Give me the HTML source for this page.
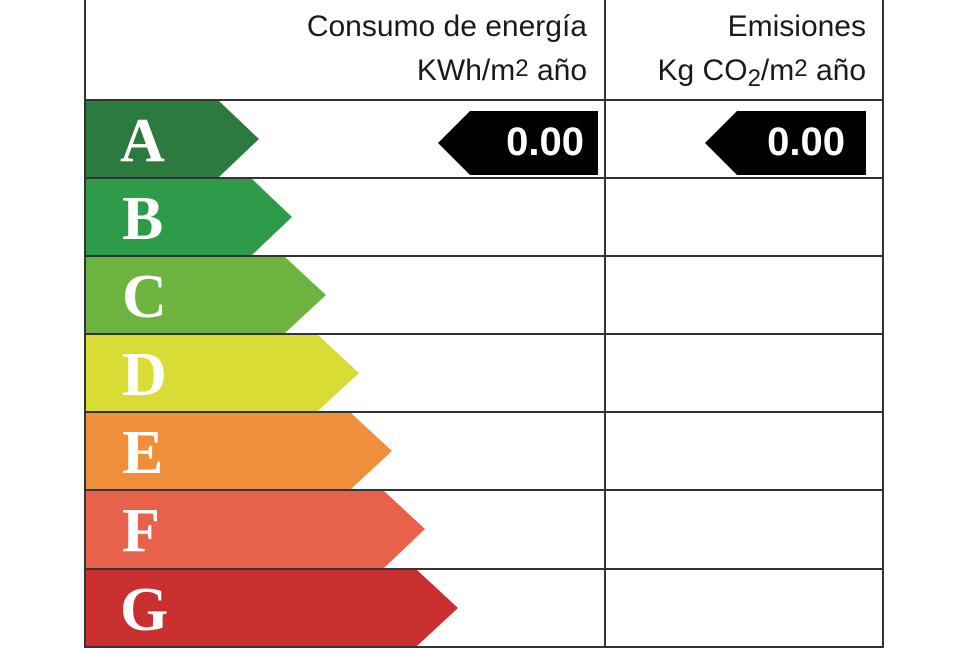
<!DOCTYPE html>
<html><head><meta charset="utf-8"><style>
html,body{margin:0;padding:0;background:#fff;}
svg{display:block;}
</style></head><body>
<svg width="975" height="650" viewBox="0 0 975 650" xmlns="http://www.w3.org/2000/svg">
<rect width="975" height="650" fill="#fff"/>
<g font-family="Liberation Sans, sans-serif" font-size="30" fill="#1a1a1a" text-anchor="end">
<text x="587" y="36">Consumo de energía</text>
<text x="587" y="80">KWh/m<tspan font-size="24" dy="-4">2</tspan><tspan dy="4"> año</tspan></text>
<text x="866" y="36">Emisiones</text>
<text x="866" y="80">Kg CO<tspan font-size="24" dy="6">2</tspan><tspan dy="-6">/m</tspan><tspan font-size="24" dy="-4">2</tspan><tspan dy="4"> año</tspan></text>
</g>
<g>
<polygon points="86,101 219,101 259,139 219,177 86,177" fill="#2d7a3e"/>
<polygon points="86,179 252,179 292,217 252,255 86,255" fill="#2e9b48"/>
<polygon points="86,257 285,257 326,295 285,333 86,333" fill="#6cb33f"/>
<polygon points="86,335 318,335 359,373 318,411 86,411" fill="#d8dc35"/>
<polygon points="86,413 351,413 392,451 351,489 86,489" fill="#ef8e3b"/>
<polygon points="86,491 384,491 425,529 384,568 86,568" fill="#e8614a"/>
<polygon points="86,570 417,570 458,608 417,646 86,646" fill="#c9302f"/>
</g>
<g font-family="Liberation Serif, serif" font-weight="bold" font-size="62" fill="#fff">
<text x="120" y="161">A</text>
<text x="122" y="239">B</text>
<text x="122" y="317">C</text>
<text x="122" y="395">D</text>
<text x="122" y="473">E</text>
<text x="122" y="551">F</text>
<text x="120" y="630">G</text>
</g>
<g stroke="#333" stroke-width="2" fill="none">
<line x1="85" y1="0" x2="85" y2="648"/>
<line x1="883" y1="0" x2="883" y2="648"/>
<line x1="605" y1="0" x2="605" y2="647"/>
<line x1="85" y1="100" x2="883" y2="100"/>
<line x1="85" y1="178" x2="883" y2="178"/>
<line x1="85" y1="256" x2="883" y2="256"/>
<line x1="85" y1="334" x2="883" y2="334"/>
<line x1="85" y1="412" x2="883" y2="412"/>
<line x1="85" y1="490" x2="883" y2="490"/>
<line x1="85" y1="569" x2="883" y2="569"/>
<line x1="85" y1="647" x2="883" y2="647"/>
</g>
<polygon points="438,143 470,111 598,111 598,175 470,175" fill="#000"/>
<polygon points="705,143 737,111 866,111 866,175 737,175" fill="#000"/>
<g font-family="Liberation Sans, sans-serif" font-weight="bold" font-size="40" fill="#fff" text-anchor="end">
<text x="584" y="155">0.00</text>
<text x="845" y="155">0.00</text>
</g>
</svg>
</body></html>
